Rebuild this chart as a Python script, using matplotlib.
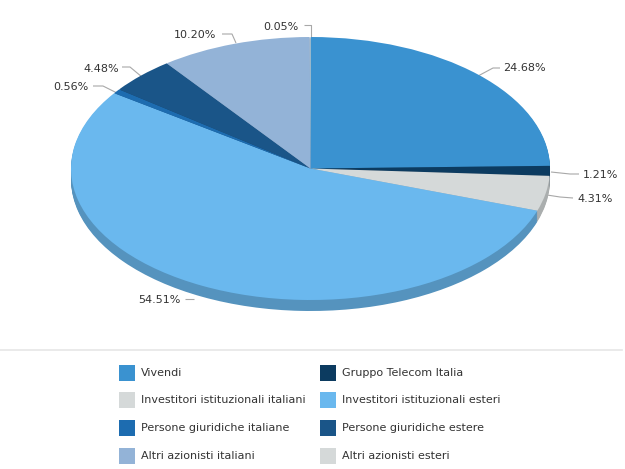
import matplotlib
matplotlib.use('Agg')
import matplotlib.pyplot as plt
from matplotlib.patches import Rectangle
from matplotlib.colors import to_rgb

# ---- data ----
categories = ['Vivendi', 'Gruppo Telecom Italia', 'Investitori istituzionali italiani',
              'Investitori istituzionali esteri', 'Persone giuridiche italiane',
              'Persone giuridiche estere', 'Altri azionisti italiani', 'Altri azionisti esteri']
shares = [24.68, 1.21, 4.31, 54.51, 0.56, 4.48, 10.20, 0.05]
colors = ['#3a92d0', '#0c3b60', '#d5d9d9', '#6ab8ee', '#1d6cb0', '#1a5588', '#93b3d7', '#d5d9d9']
pct_labels = [f'{v:.2f}%' for v in shares]

# ---- layout (pixels) ----
W, H = 625, 469
cx, cy, rx, ry, depth = 310.5, 168.5, 239.5, 131.5, 11
m = 6

# label positions: (text x, text y, ha, connector points)
label_layout = [
    (503, 68, 'left', [(478, 76), (493, 68), (500, 68)]),
    (583, 175, 'left', [(551, 172), (570, 174), (579, 174)]),
    (577, 199, 'left', [(547, 195), (560, 197), (573, 198)]),
    (181, 300, 'right', [(185, 299), (194, 299)]),
    (88, 87, 'right', [(93, 86), (103, 86), (117, 93)]),
    (119, 69, 'right', [(122, 67), (130, 67), (142, 77)]),
    (216, 35, 'right', [(222, 34), (232, 34), (236, 43)]),
    (298, 27, 'right', [(304, 25.5), (310.5, 25.5), (310.5, 37)]),
]

def darker(c, f=0.8):
    r, g, b = to_rgb(c)
    return (r * f, g * f, b * f)

fig = plt.figure(figsize=(W / 100, H / 100), dpi=100)
ov = fig.add_axes([0, 0, 1, 1])
ov.set_xlim(0, W)
ov.set_ylim(H, 0)
ov.axis('off')

# pie axes
left_px, right_px = cx - rx - m, cx + rx + m
top_px, bot_px = cy - ry - m, cy + ry + depth + m
pie_ax = fig.add_axes([left_px / W, 1 - bot_px / H, (right_px - left_px) / W, (bot_px - top_px) / H])
pie_ax.set_zorder(2)
ov.set_zorder(1)
pie_ax.patch.set_visible(False)

for k in range(depth, 0, -1):
    ws, _ = pie_ax.pie(shares, colors=[darker(c) for c in colors], startangle=90,
                       counterclock=False, center=(0, -k / ry), radius=1,
                       wedgeprops=dict(linewidth=0))
    for w in ws:
        w.set_clip_on(False)
ws, _ = pie_ax.pie(shares, colors=colors, startangle=90, counterclock=False,
                   center=(0, 0), radius=1, wedgeprops=dict(linewidth=0))
for w in ws:
    w.set_clip_on(False)
pie_ax.set_aspect('auto')
pie_ax.set_xlim((left_px - cx) / rx, (right_px - cx) / rx)
pie_ax.set_ylim((cy - bot_px) / ry, (cy - top_px) / ry)
pie_ax.axis('off')

# labels + connectors
txt_color = '#333333'
for lab, (tx, ty, ha, pts) in zip(pct_labels, label_layout):
    xs = [p[0] for p in pts]
    ys = [p[1] for p in pts]
    ov.plot(xs, ys, color='#a8a8a8', lw=0.8, solid_capstyle='butt')
    ov.text(tx, ty, lab, ha=ha, va='center', fontsize=8, color=txt_color,
            family='DejaVu Sans')

# separator
ov.plot([0, 622], [350.5, 350.5], color='#e6e6e6', lw=1.2)

# legend (row-wise, 2 columns)
row_y = [373, 400, 428, 456]
col_x = [119, 320]
for i, (cat, col) in enumerate(zip(categories, colors)):
    r, c = divmod(i, 2)
    x0, y0 = col_x[c], row_y[r]
    ov.add_patch(Rectangle((x0, y0 - 8), 16, 16, facecolor=col, edgecolor='none'))
    ov.text(x0 + 22, y0, cat, ha='left', va='center', fontsize=8, color=txt_color,
            family='DejaVu Sans')

fig.savefig('out.png', dpi=100)
